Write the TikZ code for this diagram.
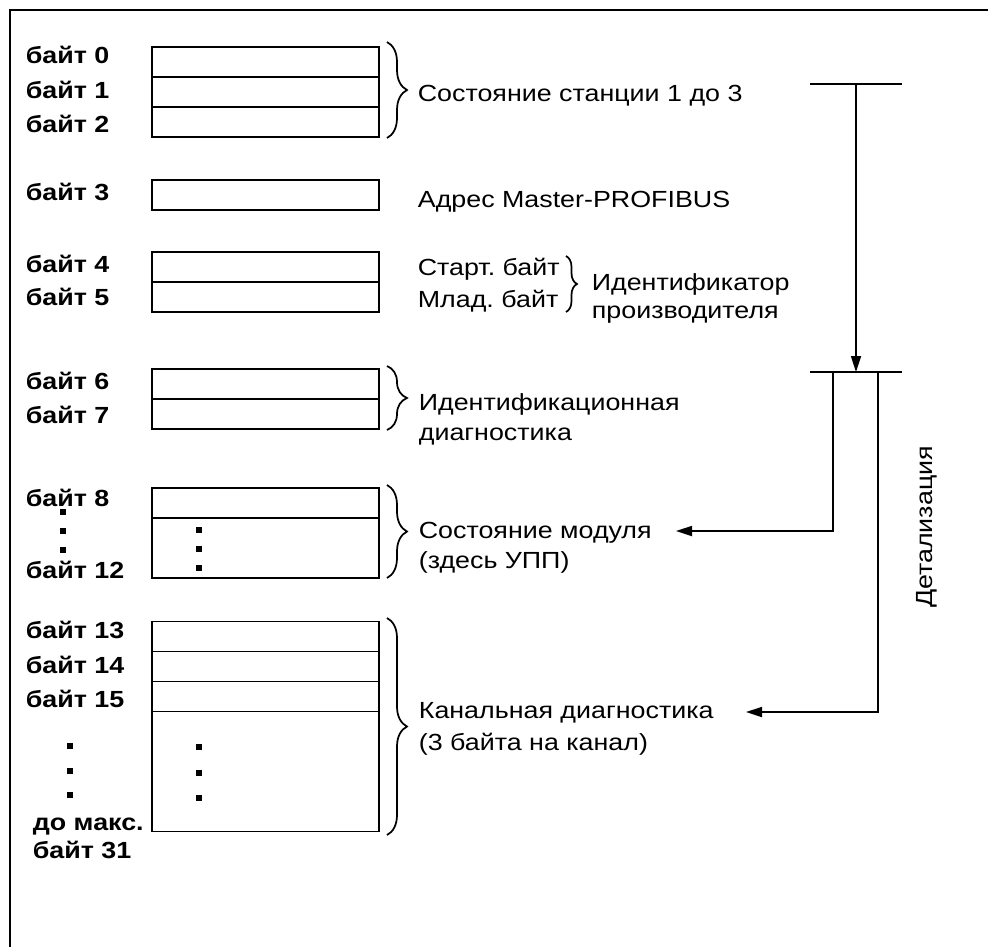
\documentclass[tikz,border=0pt]{standalone}
\usepackage{fontspec}
\setmainfont{Liberation Sans}[FakeStretch=1.15]
\usetikzlibrary{arrows.meta,decorations.pathreplacing}

\begin{document}
\begin{tikzpicture}[x=0.75pt,y=-0.75pt,line width=1.3pt,>={Stealth[length=12pt,width=7.5pt,inset=0pt]},
byte node/.style={rectangle,draw,minimum width=170.25pt,minimum height=22.5pt,inner sep=0pt},
label node/.style={anchor=base west,inner sep=0pt,font=\fontsize{17.5}{21}\selectfont\frenchspacing\bfseries},
text node/.style={anchor=base west,inner sep=0pt,font=\fontsize{17.5}{21}\selectfont\frenchspacing},
brace line/.style={decorate,decoration={brace,amplitude=15pt}}]

\useasboundingbox (0,0) rectangle (988,947);

%frame
\draw[line width=1.5pt] (988,10) -- (10,10) -- (10,947);

%bytes
\node[byte node] (0) at (265.5,62) {};
\node[byte node] (1) [below of=0,node distance=22.5pt] {};
\node[byte node] (2) [below of=1,node distance=22.5pt] {};
\node[byte node] (3) at (265.5,195) {};
\node[byte node] (4) at (265.5,267) {};
\node[byte node] (5) [below of=4,node distance=22.5pt] {};
\node[byte node] (6) at (265.5,384) {};
\node[byte node] (7) [below of=6,node distance=22.5pt] {};
\node[byte node] (8) at (265.5,503) {};
\node[byte node,minimum height=45pt] (9) [below of=8,node distance=33.75pt] {};
\node[byte node] (13) at (265.5,636.5) {};
\node[byte node] (14) [below of=13,node distance=22.5pt] {};
\node[byte node] (15) [below of=14,node distance=22.5pt] {};
\node[byte node,minimum height=90pt] (16) [below of=15,node distance=56.25pt] {};

%byte labels
\node[label node] (20) at (25,63) {байт 0};
\node[label node] (21) at (25,98) {байт 1};
\node[label node] (22) at (25,132) {байт 2};
\node[label node] (23) at (25,200) {байт 3};
\node[label node] (24) at (25,272) {байт 4};
\node[label node] (25) at (25,305) {байт 5};
\node[label node] (26) at (25,389) {байт 6};
\node[label node] (27) at (25,423) {байт 7};
\node[label node] (28) at (25,506) {байт 8};
\node[label node] (29) at (25,578) {байт 12};
\node[label node] (30) at (25,638) {байт 13};
\node[label node] (31) at (25,673) {байт 14};
\node[label node] (32) at (25,707) {байт 15};
\node[label node] (33) at (32,830) {до макс.};
\node[label node] (34) at (32,858) {байт 31};

%dots
\foreach \x/\y in {63/512,63/531,63/550,199/530,199/549,199/568,70/746,70/771,70/795,199/747,199/773,199/798}
  \fill (\x-3,\y-3) rectangle (\x+3,\y+3);

%braces
\draw[brace line] (387,42) -- (387,138);
\draw[brace line] (387,366) -- (387,430);
\draw[brace line] (387,485) -- (387,578);
\draw[brace line] (387,618) -- (387,835);
\draw[brace line,decoration={amplitude=8.25pt}] (566,256) -- (566,312);

%texts
\node[text node] (40) at (417,101) {Состояние станции 1 до 3};
\node[text node] (41) at (417,207) {Адрес Master-PROFIBUS};
\node[text node] (42) at (417,275) {Старт. байт};
\node[text node] (43) at (417,307) {Млад. байт};
\node[text node] (44) at (591,290) {Идентификатор};
\node[text node] (45) at (591,318) {производителя};
\node[text node] (46) at (418,410) {Идентификационная};
\node[text node] (47) at (418,440) {диагностика};
\node[text node] (48) at (418,538) {Состояние модуля};
\node[text node] (49) at (418,568) {(здесь УПП)};
\node[text node] (50) at (418,718) {Канальная диагностика};
\node[text node] (51) at (418,750) {(3 байта на канал)};
\node[text node,anchor=center,rotate=90] (52) at (927,527) {Детализация};

%detail lines
\coordinate (60) at (810,84);
\coordinate (61) at (902,84);
\coordinate (62) at (856,84);
\coordinate (63) at (856,372);
\coordinate (64) at (810,372);
\coordinate (65) at (902,372);
\coordinate (66) at (833,372);
\coordinate (67) at (878,372);
\coordinate (68) at (676,531);
\coordinate (69) at (746,712);

\draw (60) -- (61);
\draw[->] (62) -- (63);
\draw (64) -- (65);
\draw[->] (66) |- (68);
\draw[->] (67) |- (69);

\end{tikzpicture}
\end{document}
